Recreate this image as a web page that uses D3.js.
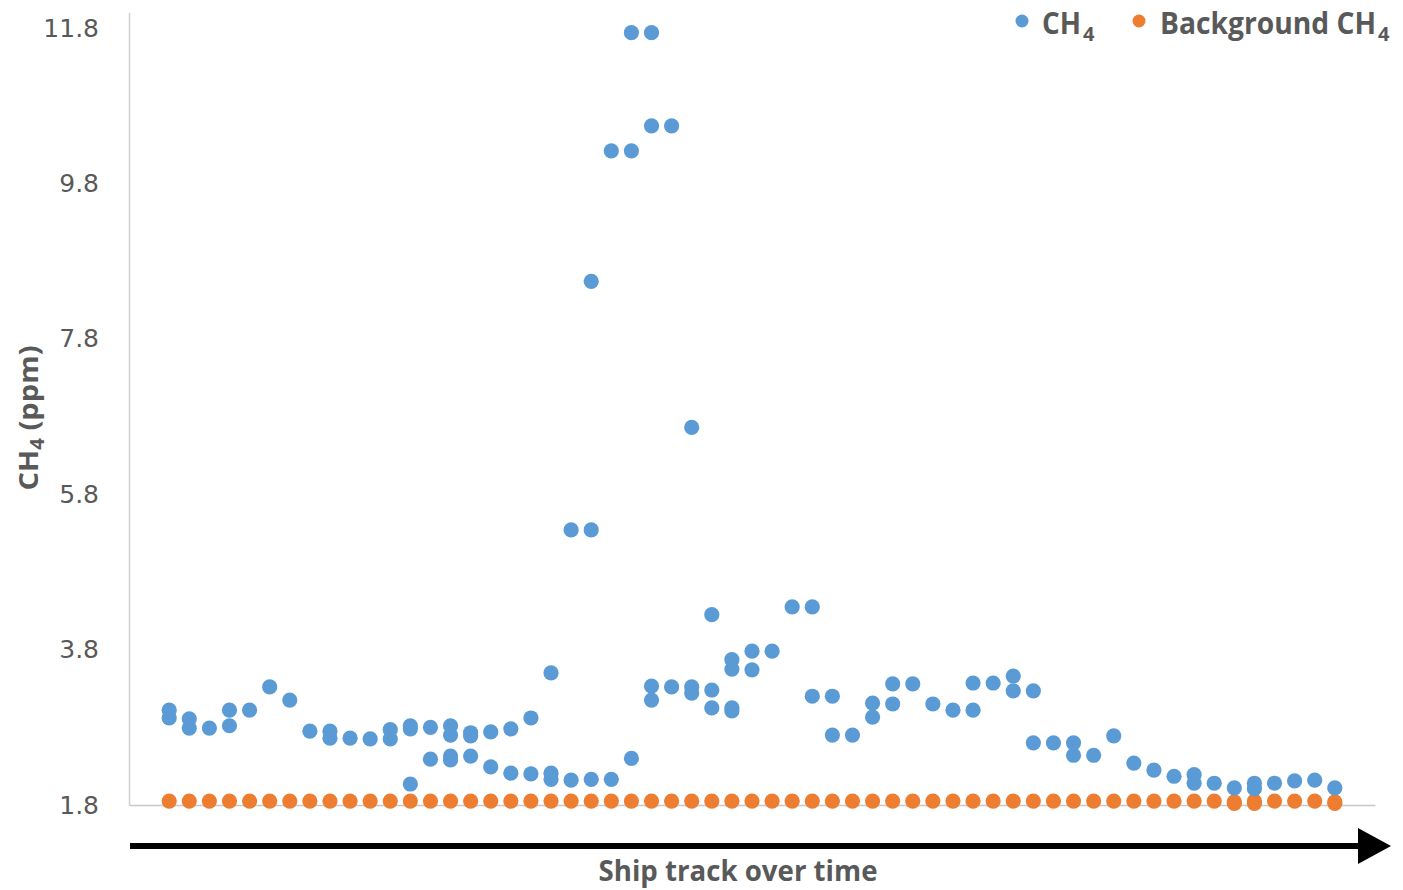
<!DOCTYPE html>
<html>
<head>
  <meta charset="utf-8">
  <title>CH4 along ship track</title>
  <style>
    body { margin: 0; background: #fff; }
  </style>
</head>
<body>
  <svg width="1403" height="890"></svg>
  <script src="https://cdn.jsdelivr.net/npm/d3@7"></script>
  <script>
  // readings per time step along the ship track (ppm)
  var ch4 = [
    [3.02, 2.92], [2.91, 2.79], [2.79], [3.02, 2.82], [3.02], [3.32], [3.15], [2.75],
    [2.75, 2.66], [2.66], [2.65], [2.77, 2.65], [2.82, 2.78, 2.07], [2.80, 2.39],
    [2.82, 2.70, 2.43, 2.38], [2.73, 2.69, 2.43], [2.74, 2.29], [2.78, 2.21], [2.92, 2.20],
    [3.50, 2.21, 2.13], [5.34, 2.12], [8.54, 5.34, 2.13], [10.22, 2.13], [11.74, 10.22, 2.40],
    [11.74, 10.54, 3.33, 3.15], [10.54, 3.32], [6.66, 3.32, 3.24], [4.25, 3.28, 3.05],
    [3.67, 3.55, 3.05, 3.01], [3.78, 3.54], [3.78], [4.35], [4.35, 3.20], [3.20, 2.70],
    [2.70], [3.11, 2.93], [3.36, 3.10], [3.36], [3.10], [3.02], [3.37, 3.02], [3.37],
    [3.46, 3.27], [3.27, 2.60], [2.60], [2.60, 2.44], [2.44], [2.69], [2.34], [2.25],
    [2.17], [2.19, 2.08], [2.08], [2.02], [2.08, 2.01], [2.08], [2.11], [2.12], [2.02]
  ];
  var background = [
    [1.85], [1.85], [1.85], [1.85], [1.85], [1.85], [1.85], [1.85], [1.85], [1.85],
    [1.85], [1.85], [1.85], [1.85], [1.85], [1.85], [1.85], [1.85], [1.85], [1.85],
    [1.85], [1.85], [1.85], [1.85], [1.85], [1.85], [1.85], [1.85], [1.85], [1.85],
    [1.85], [1.85], [1.85], [1.85], [1.85], [1.85], [1.85], [1.85], [1.85], [1.85],
    [1.85], [1.85], [1.85], [1.85], [1.85], [1.85], [1.85], [1.85], [1.85], [1.85],
    [1.85], [1.85], [1.85], [1.84, 1.82], [1.85, 1.82], [1.85], [1.85], [1.85], [1.84, 1.82]
  ];
  var yTicks = [1.8, 3.8, 5.8, 7.8, 9.8, 11.8];

  var blue = "#5b9bd5", orange = "#ed7d31", grey = "#595959";
  var svg = d3.select("svg");

  var x = d3.scaleLinear().domain([-2, 60]).range([129, 1375]);
  var y = d3.scaleLinear().domain([1.8, 12]).range([805, 12.5]);

  // flatten per-step readings into points
  function points(series) {
    var out = [];
    series.forEach(function(vals, i) {
      vals.forEach(function(v) { out.push({ i: i, v: v }); });
    });
    return out;
  }

  // axes
  var yAxis = svg.append("g")
    .attr("transform", "translate(129,0)")
    .call(d3.axisLeft(y).tickValues(yTicks).tickSize(0).tickPadding(30)
      .tickFormat(d3.format(".1f")));
  yAxis.select(".domain").attr("stroke", "#d0d0d0").attr("stroke-width", 1.5);
  yAxis.selectAll("text")
    .attr("font-family", "DejaVu Sans, Verdana, sans-serif")
    .attr("font-size", 25)
    .attr("fill", grey);

  var xAxis = svg.append("g")
    .attr("transform", "translate(0,805)")
    .call(d3.axisBottom(x).tickValues([]).tickSize(0).tickSizeOuter(0));
  xAxis.select(".domain").attr("stroke", "#c8c8c8").attr("stroke-width", 1.5);

  // dots
  svg.append("g").selectAll("circle")
    .data(points(background))
    .enter().append("circle")
    .attr("cx", function(d) { return x(d.i); })
    .attr("cy", function(d) { return y(d.v); })
    .attr("r", 7.6)
    .attr("fill", orange);

  svg.append("g").selectAll("circle")
    .data(points(ch4))
    .enter().append("circle")
    .attr("cx", function(d) { return x(d.i); })
    .attr("cy", function(d) { return y(d.v); })
    .attr("r", 7.6)
    .attr("fill", blue);

  // y title
  var yt = svg.append("text")
    .attr("transform", "translate(38,418) rotate(-90)")
    .attr("text-anchor", "middle")
    .attr("font-family", "Open Sans, sans-serif")
    .attr("font-weight", 700)
    .attr("font-size", 27)
    .attr("fill", grey);
  yt.append("tspan").text("CH");
  yt.append("tspan").attr("font-size", 19).attr("dy", 6).text("4");
  yt.append("tspan").attr("dy", -6).text(" (ppm)");
  yt.attr("textLength", 145).attr("lengthAdjust", "spacingAndGlyphs");

  // arrow under the axis
  svg.append("line")
    .attr("x1", 130).attr("x2", 1362)
    .attr("y1", 846).attr("y2", 846)
    .attr("stroke", "#000").attr("stroke-width", 6);
  svg.append("path")
    .attr("d", "M1358,828L1391,846L1358,864Z")
    .attr("fill", "#000");

  svg.append("text")
    .attr("x", 738).attr("y", 881)
    .attr("text-anchor", "middle")
    .attr("font-family", "Open Sans, sans-serif")
    .attr("font-weight", 700)
    .attr("font-size", 29)
    .attr("fill", grey)
    .attr("textLength", 279)
    .attr("lengthAdjust", "spacingAndGlyphs")
    .text("Ship track over time");

  // legend
  var legend = [
    { name: "CH", color: blue, cx: 1022, tx: 1042, w: 39 },
    { name: "Background CH", color: orange, cx: 1139, tx: 1160, w: 216 }
  ];
  legend.forEach(function(l) {
    svg.append("circle").attr("cx", l.cx).attr("cy", 21).attr("r", 6.5).attr("fill", l.color);
    svg.append("text")
      .attr("x", l.tx).attr("y", 34)
      .attr("font-family", "Open Sans, sans-serif")
      .attr("font-weight", 700)
      .attr("font-size", 30)
      .attr("fill", grey)
      .attr("textLength", l.w)
      .attr("lengthAdjust", "spacingAndGlyphs")
      .text(l.name);
    svg.append("text")
      .attr("x", l.tx + l.w + 2).attr("y", 41)
      .attr("font-family", "Open Sans, sans-serif")
      .attr("font-weight", 700)
      .attr("font-size", 20)
      .attr("fill", grey)
      .text("4");
  });
  </script>
</body>
</html>
